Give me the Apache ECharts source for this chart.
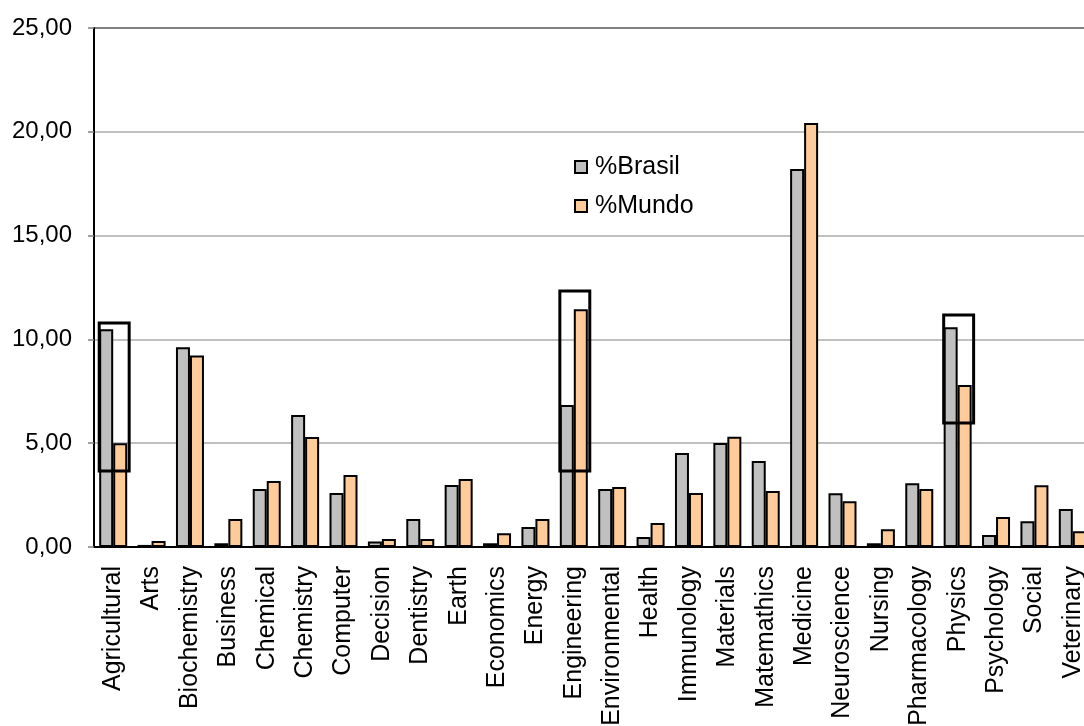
<!DOCTYPE html>
<html>
<head>
<meta charset="utf-8">
<script src="https://cdn.jsdelivr.net/npm/echarts@6/dist/echarts.min.js"></script>
<style>
html,body{margin:0;padding:0;overflow:hidden;background:#fff;width:1084px;height:726px;}
#chart{width:1100px;height:726px;}
</style>
</head>
<body>
<div id="chart"></div>
<script>
const categories = ['Agricultural','Arts','Biochemistry','Business','Chemical','Chemistry','Computer','Decision','Dentistry','Earth','Economics','Energy','Engineering','Environmental','Health','Immunology','Materials','Matemathics','Medicine','Neuroscience','Nursing','Pharmacology','Physics','Psychology','Social','Veterinary'];
const brasil = [10.49,0.10,9.62,0.18,2.79,6.36,2.60,0.27,1.35,2.99,0.18,0.96,6.84,2.79,0.48,4.53,5.01,4.14,18.21,2.59,0.18,3.07,10.58,0.58,1.24,1.83];
const mundo  = [5.00,0.29,9.23,1.35,3.18,5.30,3.47,0.39,0.39,3.28,0.66,1.35,11.45,2.89,1.16,2.60,5.31,2.70,20.42,2.20,0.85,2.79,7.80,1.45,2.97,0.76];
const seriesNames = ['%Brasil','%Mundo'];
// highlighted categories: [category, lower edge, upper edge]
const highlightCats = ['Agricultural','Engineering','Physics'];
const highlightLow  = [3.66,3.66,5.97];
const highlightHigh = [10.79,12.33,11.18];
const yTicks = [0,5,10,15,20,25];

const chart = echarts.init(document.getElementById('chart'), null, {renderer:'canvas'});
const font = 'Liberation Sans, Arial, sans-serif';
chart.setOption({
  animation:false,
  backgroundColor:'#fff',
  grid:{left:94, right:8, top:28, bottom:179, containLabel:false, outerBoundsMode:'none'},
  legend:{
    data:seriesNames, orient:'vertical', left:569, top:149,
    itemWidth:12, itemHeight:12, itemGap:13,
    icon:'rect',
    textStyle:{fontFamily:font, fontSize:25, lineHeight:26, color:'#000', padding:[0,0,0,3]}
  },
  xAxis:{
    type:'category', data:categories,
    axisLine:{lineStyle:{color:'#000', width:2}},
    axisTick:{show:false},
    axisLabel:{rotate:90, interval:0, margin:19, fontFamily:font, fontSize:25, color:'#000'}
  },
  yAxis:{
    type:'value', min:yTicks[0], max:yTicks[yTicks.length-1], interval:5,
    axisLine:{show:true, lineStyle:{color:'#000', width:2}},
    axisTick:{show:true, length:6, lineStyle:{color:'#808080', width:1.5}},
    splitLine:{show:true, lineStyle:{color:['#c0c0c0','#c0c0c0','#c0c0c0','#c0c0c0','#c0c0c0','#808080'], width:2}},
    axisLabel:{margin:22, fontFamily:font, fontSize:24, color:'#000',
      formatter:v=>v.toFixed(2).replace('.',',')}
  },
  series:[
    {name:seriesNames[0], type:'bar', data:brasil, barWidth:14, barGap:'0%',
     itemStyle:{color:'#c0c0c0', borderColor:'#000', borderWidth:2}},
    {name:seriesNames[1], type:'bar', data:mundo, barWidth:14, barGap:'0%',
     itemStyle:{color:'#ffcc99', borderColor:'#000', borderWidth:2}},
    {type:'custom', z:10, silent:true,
     data:highlightCats.map((c,i)=>[c, highlightLow[i], highlightHigh[i]]),
     renderItem:function(params, api){
       const lo = api.coord([api.value(0), api.value(1)]);
       const hi = api.coord([api.value(0), api.value(2)]);
       const w = api.size([1,0])[0]*0.78;
       return {type:'rect', shape:{x:lo[0]-w/2+1, y:hi[1], width:w, height:lo[1]-hi[1]},
               style:{fill:null, stroke:'#000', lineWidth:3}};
     }}
  ]
});
</script>
</body>
</html>
